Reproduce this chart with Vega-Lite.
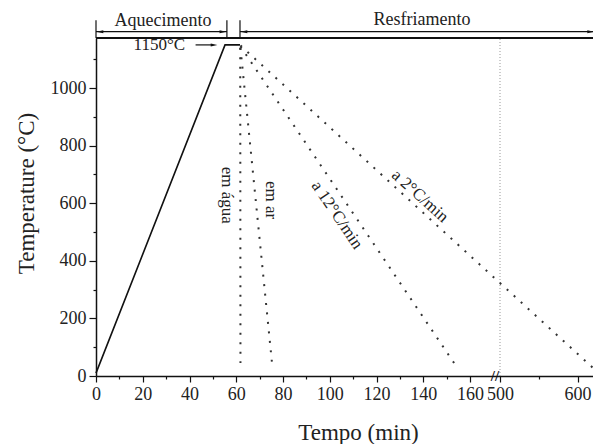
{
  "$schema": "https://vega.github.io/schema/vega-lite/v6.json",
  "width": 497,
  "height": 338,
  "autosize": "none",
  "padding": {"left": 96, "top": 38, "right": 0, "bottom": 68},
  "background": "white",
  "config": {
    "font": "Liberation Serif",
    "view": {"stroke": null},
    "axis": {
      "grid": false,
      "domainColor": "#111",
      "domainWidth": 1.5,
      "tickColor": "#111",
      "tickWidth": 1.2,
      "labelFont": "Liberation Serif",
      "labelFontSize": 18,
      "labelColor": "#222",
      "titleFont": "Liberation Serif",
      "titleFontSize": 23,
      "titleFontWeight": "normal",
      "titleColor": "#222",
      "labelOverlap": false,
      "labelFlush": false,
      "labelBound": false
    }
  },
  "datasets": {
    "curves": [
      {"series": "aquecimento", "i": 0, "x": 0, "y": 10},
      {"series": "aquecimento", "i": 1, "x": 55.2, "y": 1150},
      {"series": "aquecimento", "i": 2, "x": 61.6, "y": 1150}
    ],
    "cooling": [
      {"series": "em água", "i": 0, "x": 61.7, "y": 1140},
      {"series": "em água", "i": 1, "x": 61.8, "y": 45},
      {"series": "em ar", "i": 0, "x": 61.8, "y": 1140},
      {"series": "em ar", "i": 1, "x": 75.3, "y": 45},
      {"series": "a 12°C/min", "i": 0, "x": 61.8, "y": 1145},
      {"series": "a 12°C/min", "i": 1, "x": 153.2, "y": 45},
      {"series": "a 2°C/min", "i": 0, "x": 61.8, "y": 1148},
      {"series": "a 2°C/min", "i": 1, "x": 160, "y": 418},
      {"series": "a 2°C/min", "i": 2, "x": 500, "y": 323},
      {"series": "a 2°C/min", "i": 3, "x": 620, "y": 28}
    ],
    "frame": [
      {"x": 0, "x2": 56, "y": 1196, "y2": 1196},
      {"x": 61.6, "x2": 620, "y": 1196, "y2": 1196},
      {"x": 0, "x2": 0, "y": 1174, "y2": 1236},
      {"x": 56, "x2": 56, "y": 1174, "y2": 1236},
      {"x": 61.6, "x2": 61.6, "y": 1174, "y2": 1236},
      {"x": 42.6, "x2": 50, "y": 1150, "y2": 1150}
    ],
    "topline": [
      {"x": 0, "x2": 620, "y": 1174, "y2": 1174}
    ],
    "marker500": [
      {"x": 500, "y": 0, "y2": 1174}
    ],
    "headsRight": [
      {"x": 54.3, "y": 1196},
      {"x": 617, "y": 1196},
      {"x": 50.5, "y": 1150}
    ],
    "headsLeft": [
      {"x": 1.7, "y": 1196},
      {"x": 63.3, "y": 1196}
    ],
    "headers": [
      {"x": 28.7, "y": 1233, "text": "Aquecimento"},
      {"x": 139.5, "y": 1236, "text": "Resfriamento"}
    ]
  },
  "encoding": {
    "x": {
      "field": "x",
      "type": "quantitative",
      "scale": {"domain": [0, 160, 500, 620], "range": [0, 374, 404, 497], "nice": false, "zero": false},
      "axis": {
        "title": "Tempo (min)",
        "values": [0, 10, 20, 30, 40, 50, 60, 70, 80, 90, 100, 110, 120, 130, 140, 150, 160, 500, 550, 600],
        "format": "d",
        "labelExpr": "datum.value % 20 === 0 ? datum.label : ''",
        "tickSize": {"condition": {"test": "datum.value % 20 !== 0", "value": 3}, "value": 6},
        "labelPadding": 3,
        "titleX": 262,
        "titleY": 56,
        "titleBaseline": "middle",
        "titleAlign": "center"
      }
    },
    "y": {
      "field": "y",
      "type": "quantitative",
      "scale": {"domain": [0, 1174], "nice": false, "zero": false},
      "axis": {
        "title": "Temperature (°C)",
        "values": [0, 100, 200, 300, 400, 500, 600, 700, 800, 900, 1000, 1100],
        "format": "d",
        "labelExpr": "datum.value % 200 === 0 ? datum.label : ''",
        "tickSize": {"condition": {"test": "datum.value % 200 !== 0", "value": 3}, "value": 7},
        "labelPadding": 3,
        "titleX": -70,
        "titleY": 155,
        "titleBaseline": "middle",
        "titleAlign": "center",
        "titleAngle": -90
      }
    }
  },
  "layer": [
    {
      "data": {"name": "marker500"},
      "mark": {"type": "rule", "color": "#999", "strokeWidth": 1, "strokeDash": [1, 2]},
      "encoding": {"y2": {"field": "y2"}}
    },
    {
      "data": {"name": "curves"},
      "mark": {"type": "line", "color": "#111", "strokeWidth": 1.6},
      "encoding": {"detail": {"field": "series"}, "order": {"field": "i"}}
    },
    {
      "data": {"name": "cooling"},
      "mark": {"type": "line", "color": "#333", "strokeWidth": 2, "strokeDash": [2, 7.5]},
      "encoding": {"detail": {"field": "series"}, "order": {"field": "i"}}
    },
    {
      "data": {"name": "frame"},
      "mark": {"type": "rule", "color": "#111", "strokeWidth": 1.2},
      "encoding": {"x2": {"field": "x2"}, "y2": {"field": "y2"}}
    },
    {
      "data": {"name": "topline"},
      "mark": {"type": "rule", "color": "#111", "strokeWidth": 2},
      "encoding": {"x2": {"field": "x2"}, "y2": {"field": "y2"}}
    },
    {
      "data": {"name": "headsRight"},
      "mark": {"type": "point", "shape": "M-1,-0.45L1,0L-1,0.45Z", "filled": true, "color": "#111", "size": 45, "opacity": 1},
      "encoding": {}
    },
    {
      "data": {"name": "headsLeft"},
      "mark": {"type": "point", "shape": "M1,-0.45L-1,0L1,0.45Z", "filled": true, "color": "#111", "size": 45, "opacity": 1},
      "encoding": {}
    },
    {
      "data": {"name": "headers"},
      "mark": {"type": "text", "fontSize": 18, "color": "#222", "baseline": "middle", "align": "center"},
      "encoding": {"text": {"field": "text"}}
    },
    {
      "data": {"values": [{"x": 38.1, "y": 1149, "text": "1150°C"}]},
      "mark": {"type": "text", "fontSize": 17, "color": "#222", "baseline": "middle", "align": "right"},
      "encoding": {"text": {"field": "text"}}
    },
    {
      "data": {"values": [{"x": 56.0, "y": 628, "text": "em água"}, {"x": 74.9, "y": 611, "text": "em ar"}]},
      "mark": {"type": "text", "fontSize": 17, "color": "#222", "baseline": "middle", "align": "center", "angle": 90},
      "encoding": {"text": {"field": "text"}}
    },
    {
      "data": {"values": [{"x": 103.1, "y": 559, "text": "a 12°C/min"}]},
      "mark": {"type": "text", "fontSize": 17, "color": "#222", "baseline": "middle", "align": "center", "angle": 56},
      "encoding": {"text": {"field": "text"}}
    },
    {
      "data": {"values": [{"x": 138.6, "y": 625, "text": "a 2°C/min"}]},
      "mark": {"type": "text", "fontSize": 17, "color": "#222", "baseline": "middle", "align": "center", "angle": 42},
      "encoding": {"text": {"field": "text"}}
    },
    {
      "data": {"values": [{"x": 443, "y": 0, "text": "//"}]},
      "mark": {"type": "text", "fontSize": 15, "color": "#111", "baseline": "middle", "align": "center", "fontWeight": "bold"},
      "encoding": {"text": {"field": "text"}}
    }
  ]
}
